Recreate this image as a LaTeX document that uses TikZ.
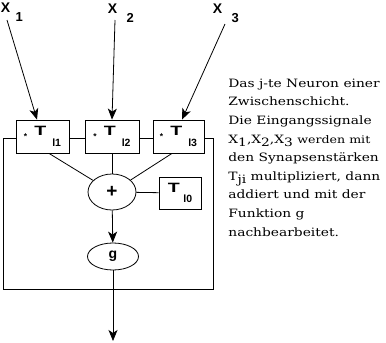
\documentclass[tikz,border=0pt]{standalone}
\usepackage{fontspec}
\setmainfont{DejaVu Serif}
\setsansfont{Liberation Sans}
\newfontfamily\notefont[FakeStretch=1.2]{DejaVu Serif}
\newfontfamily\widesans[FakeStretch=1.45]{Liberation Sans}
\usetikzlibrary{arrows.meta,shapes.geometric}

\tikzset{
  wbox/.style={draw,fill=white,inner sep=0pt,minimum height=33pt,
    font=\widesans\bfseries\fontsize{13.5}{13.5}\selectfont},
  oval/.style={draw,ellipse,inner sep=0pt,font=\sffamily\bfseries},
  inlbl/.style={anchor=base west,inner sep=0pt,font=\sffamily\bfseries\fontsize{14}{14}\selectfont},
}
\newcommand\tsub[1]{\raisebox{-10.5pt}{\sffamily\fontsize{10.5}{10.5}\selectfont #1}}
\newcommand\xsub[1]{\raisebox{-9pt}{\fontsize{13}{13}\selectfont #1}}
\newcommand\mulsign{\raisebox{-4pt}{\sffamily\fontsize{8.5}{8.5}\selectfont*}}
\newcommand\lowsub[1]{\raisebox{-3.5pt}{#1}}

\begin{document}
\begin{tikzpicture}[x=1pt,y=-1pt,line width=0.8pt,>={Stealth[length=11pt,width=9pt,inset=3pt]}]
  \useasboundingbox (0,0) rectangle (386,343);
  % outer frame of the neuron
  \draw (3,138) rectangle (213,289);

  % input labels
  \node[inlbl] (x1) at (0.5,12.5) {X\hspace{5.5pt}\xsub{1}};
  \node[inlbl] (x2) at (107.5,13) {X\hspace{9.5pt}\xsub{2}};
  \node[inlbl] (x3) at (212.5,13) {X\hspace{9.5pt}\xsub{3}};
  \coordinate (s1) at (7,20);
  \coordinate (s2) at (115,20);
  \coordinate (s3) at (225,24);

  % weights
  \node[wbox,minimum width=53pt] (b1) at (42.5,136.5) {\mulsign\hspace{7pt}T\hspace{6pt}\tsub{l1}\hspace{3pt}};
  \node[wbox,minimum width=54pt] (b2) at (112,136.5) {\mulsign\hspace{7pt}T\hspace{6pt}\tsub{l2}\hspace{3pt}};
  \node[wbox,minimum width=51pt] (b3) at (178.5,136.5) {\mulsign\hspace{7pt}T\hspace{6pt}\tsub{l3}\hspace{3pt}};
  \node[wbox,minimum width=42pt,minimum height=32pt] (t0) at (180,193) {T\hspace{3.5pt}\tsub{l0}};

  % sum and output function
  \node[oval,minimum width=48pt,minimum height=36pt,font=\sffamily\bfseries\fontsize{19}{19}\selectfont] (plus) at (112,192) {+};
  \node[oval,minimum width=51pt,minimum height=27pt,font=\sffamily\bfseries\fontsize{14}{14}\selectfont] (g) at (113,256.5) {g};
  \coordinate (out) at (113,341);

  \draw[->] (s1) -- ([xshift=-5.5pt]b1.north);
  \draw[->] (s2) -- (b2.north);
  \draw[->] (s3) -- ([xshift=3.5pt]b3.north);
  \draw ([xshift=6.5pt]b1.south) -- (plus);
  \draw (b2) -- (plus);
  \draw ([xshift=-6.5pt]b3.south) -- (plus);
  \draw (plus) -- (t0);
  \draw[->] (plus) -- (g);
  \draw[->] (g) -- (out);

  % explanation
  \node[anchor=north west,inner sep=0pt,align=left,font=\notefont\fontsize{11.5}{18.6}\selectfont] (note) at (228,78.5)
    {Das j-te Neuron einer\\
     Zwischenschicht.\\
     Die Eingangssignale\\
     X\lowsub{1},X\lowsub{2},X\lowsub{3} {\fontsize{10.5}{10.5}\selectfont werden mit}\\
     den Synapsenstärken\\
     T\lowsub{ji} multipliziert, dann\\
     addiert und mit der\\
     Funktion g\\
     nachbearbeitet.};
\end{tikzpicture}
\end{document}
